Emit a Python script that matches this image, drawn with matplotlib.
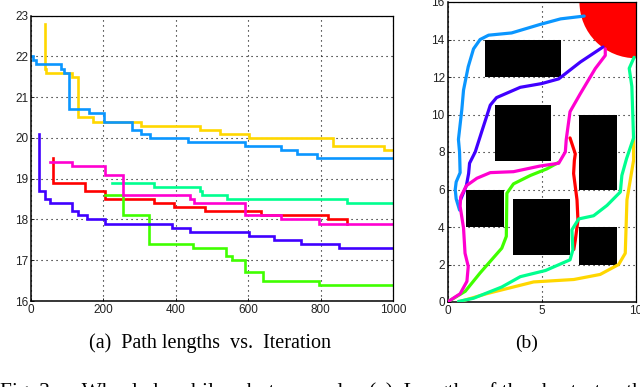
import matplotlib

matplotlib.use("Agg")
import matplotlib.pyplot as plt
from matplotlib.patches import Circle, Rectangle

# left panel, step series: x is where each level starts
yellow_x = [38, 38, 42, 112, 130, 170, 305, 466, 522, 603, 835, 975, 1000]
yellow_y = [22.8, 21.7, 21.6, 21.5, 20.5, 20.4, 20.3, 20.2, 20.1, 20.0, 19.8, 19.7, 19.7]
blue_x = [2, 5, 15, 82, 92, 105, 160, 203, 280, 303, 328, 435, 590, 690, 735, 790, 1000]
blue_y = [22.0, 21.9, 21.8, 21.7, 21.6, 20.7, 20.6, 20.4, 20.2, 20.1, 20.0, 19.9, 19.8, 19.7, 19.6, 19.5, 19.5]
purple_x = [22, 22, 38, 52, 112, 130, 155, 205, 390, 438, 603, 670, 745, 850, 1000]
purple_y = [20.1, 18.7, 18.5, 18.4, 18.2, 18.1, 18.0, 17.9, 17.8, 17.7, 17.6, 17.5, 17.4, 17.3, 17.3]
red_x = [60, 60, 148, 205, 340, 395, 480, 635, 821, 873]
red_y = [19.5, 18.9, 18.7, 18.5, 18.4, 18.3, 18.2, 18.1, 18.0, 17.9]
magenta_x = [52, 112, 205, 255, 440, 450, 591, 690, 795, 1000]
magenta_y = [19.4, 19.3, 19.1, 18.6, 18.5, 18.4, 18.1, 18.0, 17.9, 17.9]
spring_x = [225, 340, 466, 472, 542, 873, 1000]
spring_y = [18.9, 18.8, 18.7, 18.6, 18.5, 18.4, 18.4]
green_x = [205, 255, 325, 448, 540, 555, 592, 640, 795, 1000]
green_y = [18.6, 18.1, 17.4, 17.3, 17.1, 17.0, 16.7, 16.5, 16.4, 16.4]

# right panel, paths through the obstacles
path_blue_x = [0.64, 0.46, 0.41, 0.46, 0.67, 0.64, 0.58, 0.76, 0.85, 1.1, 1.38, 1.73, 2.18, 3.4, 4.9, 6, 7.25]
path_blue_y = [4.9, 5.5, 6, 6.4, 6.9, 8, 8.67, 10.26, 11.3, 12.55, 13.5, 14, 14.23, 14.35, 14.8, 15.1, 15.25]
path_purple_x = [0.67, 1, 1.12, 1.17, 1.47, 1.82, 2.27, 2.6, 3.86, 5, 5.9, 7.05, 8.25]
path_purple_y = [5.4, 6.2, 6.85, 7.4, 8, 9.1, 10.5, 10.9, 11.45, 11.65, 11.9, 12.8, 13.6]
path_red_x = [6.7, 6.78, 6.92, 6.87, 6.69, 6.73, 6.78, 6.5]
path_red_y = [2.8, 3.3, 4.37, 5.45, 6.85, 7.55, 7.9, 8.75]
path_green_x = [0, 0.94, 1.73, 2.88, 3.12, 3.15, 3.5, 4.4, 5.27, 5.9]
path_green_y = [0, 0.57, 1.55, 2.87, 3.5, 5.8, 6.3, 6.75, 7.1, 7.45]
path_yellow_x = [0.58, 2.1, 4.57, 6.7, 8.1, 9.08, 9.43, 9.52, 9.87, 9.87]
path_yellow_y = [0, 0.45, 1.07, 1.2, 1.47, 2, 2.6, 5.45, 7.55, 8.7]
path_spring_x = [0.58, 1.38, 2.88, 3.86, 5.2, 6.5, 6.65, 6.6, 6.96, 7.75, 8.46, 9.17, 9.25, 9.5, 9.87, 9.78, 9.64, 9.9]
path_spring_y = [0.03, 0.2, 0.8, 1.35, 1.68, 2.25, 2.77, 3.85, 4.43, 4.6, 5.15, 5.87, 6.75, 7.65, 8.75, 11.5, 12.46, 13.05]
path_magenta_x = [0, 0.67, 1.03, 1.1, 0.93, 0.85, 0.67, 0.7, 1, 1.56, 2.27, 3.5, 4.9, 5.9, 6.25, 6.3, 6.5, 7.04, 7.84, 8.37, 8.37]
path_magenta_y = [0, 0.44, 1.1, 1.9, 2.6, 3.95, 5.1, 5.6, 6.2, 6.6, 6.9, 6.95, 7.25, 7.4, 8, 8.67, 10.15, 11.1, 12.45, 13.15, 13.5]

# lower-left x, lower-left y, width, height
obstacles = [(2, 12, 4, 2), (2.5, 7.5, 3, 3), (7, 6, 2, 4), (1, 4, 2, 2), (3.5, 2.5, 3, 3), (7, 2, 2, 2)]

YELLOW = "#ffd700"
BLUE = "#0a96ff"
PURPLE = "#4000ff"
RED = "#ff0000"
MAGENTA = "#ff00d0"
SPRING = "#00ff8f"
GREEN = "#40ff00"

W, H = 640, 387
plt.rcParams["font.family"] = ["Liberation Sans", "DejaVu Sans"]
plt.rcParams["font.size"] = 8.5


def place(fig, left, right, top, bottom):
    return fig.add_axes([left / W, 1 - bottom / H, (right - left) / W, (bottom - top) / H])


def style(ax):
    ax.grid(True, color="black", linestyle=(0, (1, 3.5)), linewidth=0.8)
    ax.set_axisbelow(True)
    ax.tick_params(length=2.5, width=0.7, pad=2, direction="in", colors="#222222")
    for spine in ax.spines.values():
        spine.set_linewidth(0.9)
    ax.spines["left"].set_linewidth(1.1)
    ax.spines["bottom"].set_linewidth(1.1)


fig = plt.figure(figsize=(W / 100, H / 100), dpi=100)

ax1 = place(fig, 31, 393, 15.5, 301)
style(ax1)
for xs, ys, color in [
    (yellow_x, yellow_y, YELLOW),
    (blue_x, blue_y, BLUE),
    (red_x, red_y, RED),
    (spring_x, spring_y, SPRING),
    (green_x, green_y, GREEN),
    (magenta_x, magenta_y, MAGENTA),
    (purple_x, purple_y, PURPLE),
]:
    ax1.step(xs, ys, where="post", color=color, linewidth=1.9, solid_joinstyle="miter")
ax1.set_xlim(0, 1000)
ax1.set_ylim(16, 23)
ax1.set_xticks([0, 200, 400, 600, 800, 1000])
ax1.set_yticks(range(16, 24))

ax2 = place(fig, 447.5, 636, 2, 302)
style(ax2)
ax2.add_patch(Circle((10, 16), 3, color=RED, linewidth=0, zorder=2))
for x, y, w, h in obstacles:
    ax2.add_patch(Rectangle((x, y), w, h, color="black", linewidth=0, zorder=2))
for xs, ys, color in [
    (path_red_x, path_red_y, RED),
    (path_yellow_x, path_yellow_y, YELLOW),
    (path_blue_x, path_blue_y, BLUE),
    (path_green_x, path_green_y, GREEN),
    (path_spring_x, path_spring_y, SPRING),
    (path_purple_x, path_purple_y, PURPLE),
    (path_magenta_x, path_magenta_y, MAGENTA),
]:
    ax2.plot(xs, ys, color=color, linewidth=2.3, solid_joinstyle="round", solid_capstyle="round", zorder=3)
ax2.set_xlim(0, 10)
ax2.set_ylim(0, 16)
ax2.set_xticks([0, 5, 10])
ax2.set_yticks(range(0, 17, 2))

serif = ["Liberation Serif", "DejaVu Serif"]
fig.text(210 / W, 1 - 343 / H, "(a)  Path lengths  vs.  Iteration", family=serif, fontsize=14.5, ha="center", va="center")
fig.text(527 / W, 1 - 343 / H, "(b)", family=serif, fontsize=14, ha="center", va="center")
# last line of the page text, cut off by the bottom edge
fig.text(0, 1 - 397 / H, "Fig. 3.     Wheeled mobile robot example.  (a)  Lengths of the shortest path", family=serif, fontsize=15.5, ha="left", va="baseline")

fig.savefig("out.png", dpi=100)
